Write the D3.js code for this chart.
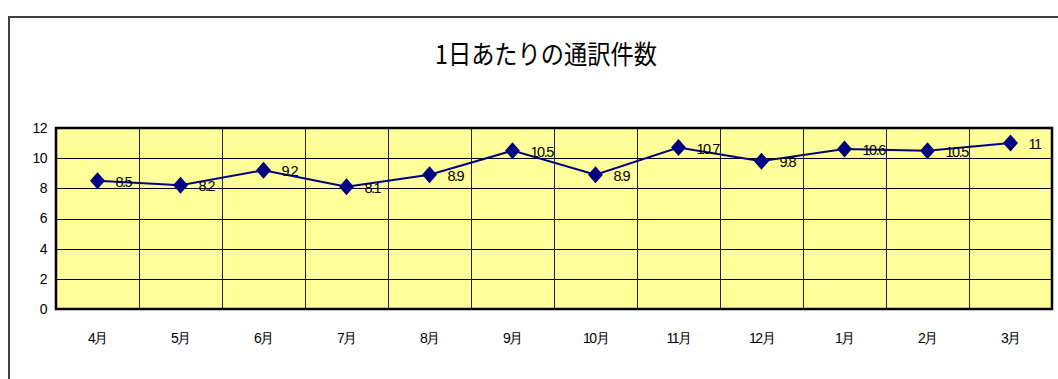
<!DOCTYPE html>
<html>
<head>
<meta charset="utf-8">
<script src="https://cdn.jsdelivr.net/npm/d3@7"></script>
<style>
  html, body { margin: 0; padding: 0; background: #fff; }
  svg { display: block; }
</style>
</head>
<body>
<svg id="chart" width="1058" height="379"></svg>
<script>
// Monthly average of interpretation requests per day (April–March)
const months = ["4月", "5月", "6月", "7月", "8月", "9月", "10月", "11月", "12月", "1月", "2月", "3月"];
const perDay = [8.5, 8.2, 9.2, 8.1, 8.9, 10.5, 8.9, 10.7, 9.8, 10.6, 10.5, 11];
const yTicks = [0, 2, 4, 6, 8, 10, 12];
const title = "1日あたりの通訳件数";

const svg = d3.select("#chart");
const plot = { left: 56, right: 1052, top: 128, bottom: 309 };

const x = d3.scaleBand().domain(months).range([plot.left, plot.right]).padding(0);
const y = d3.scaleLinear().domain([0, 12]).range([plot.bottom, plot.top]);

// chart frame
svg.append("rect")
  .attr("x", 9).attr("y", 17)
  .attr("width", 1100).attr("height", 400)
  .attr("fill", "none").attr("stroke", "#404040").attr("stroke-width", 2);

// title
svg.append("text")
  .attr("x", 435).attr("y", 64)
  .attr("textLength", 222).attr("lengthAdjust", "spacingAndGlyphs")
  .style("font-family", "'Noto Sans CJK JP', sans-serif")
  .style("font-size", "26px")
  .style("font-weight", 400)
  .attr("fill", "#000")
  .text(title);

// plot background
svg.append("rect")
  .attr("x", plot.left).attr("y", plot.top)
  .attr("width", plot.right - plot.left).attr("height", plot.bottom - plot.top)
  .attr("fill", "#FFFF99");

// horizontal gridlines
svg.append("g")
  .selectAll("line")
  .data(yTicks.filter(d => d > 0 && d < 12))
  .join("line")
  .attr("x1", plot.left).attr("x2", plot.right)
  .attr("y1", d => Math.round(y(d)) + 0.5).attr("y2", d => Math.round(y(d)) + 0.5)
  .attr("stroke", "#000").attr("stroke-width", 1);

// vertical gridlines between categories
svg.append("g")
  .selectAll("line")
  .data(months.slice(1))
  .join("line")
  .attr("x1", d => Math.round(x(d)) + 0.5).attr("x2", d => Math.round(x(d)) + 0.5)
  .attr("y1", plot.top).attr("y2", plot.bottom)
  .attr("stroke", "#222").attr("stroke-width", 1);

// plot border
svg.append("rect")
  .attr("x", plot.left).attr("y", plot.top)
  .attr("width", plot.right - plot.left).attr("height", plot.bottom - plot.top)
  .attr("fill", "none").attr("stroke", "#000").attr("stroke-width", 2.5);

// y axis
const yAxis = svg.append("g")
  .attr("transform", `translate(${plot.left},0)`)
  .call(d3.axisLeft(y).tickValues(yTicks).tickSize(0).tickPadding(9));
yAxis.select(".domain").remove();
yAxis.selectAll("text")
  .style("font-family", "'Liberation Sans', Arial, sans-serif")
  .style("font-size", "14px")
  .style("letter-spacing", "-0.5px")
  .attr("fill", "#000");

// x axis
const xAxis = svg.append("g")
  .attr("transform", `translate(0,${plot.bottom})`)
  .call(d3.axisBottom(x).tickSize(0).tickPadding(24));
xAxis.select(".domain").remove();
xAxis.selectAll("text")
  .style("font-family", "'Liberation Sans', Arial, sans-serif")
  .style("font-size", "14px")
  .style("letter-spacing", "-1.5px")
  .attr("fill", "#000");

const cx = d => x(d) + x.bandwidth() / 2;
const pts = months.map((m, i) => ({ m, v: perDay[i] }));

// series line
svg.append("path")
  .datum(pts)
  .attr("fill", "none")
  .attr("stroke", "#000080")
  .attr("stroke-width", 2)
  .attr("d", d3.line().x(d => cx(d.m)).y(d => y(d.v)));

// diamond markers
svg.append("g")
  .selectAll("path")
  .data(pts)
  .join("path")
  .attr("transform", d => `translate(${cx(d.m)},${y(d.v)})`)
  .attr("d", "M0,-8.5L7.5,0L0,8.5L-7.5,0Z")
  .attr("fill", "#000080");

// value labels
svg.append("g")
  .selectAll("text")
  .data(pts)
  .join("text")
  .attr("x", d => cx(d.m) + 18)
  .attr("y", d => y(d.v) + 1)
  .attr("dominant-baseline", "central")
  .style("font-family", "'Liberation Sans', Arial, sans-serif")
  .style("font-size", "14.5px")
  .style("letter-spacing", "-1.5px")
  .attr("fill", "#000")
  .text(d => d.v);
</script>
</body>
</html>
